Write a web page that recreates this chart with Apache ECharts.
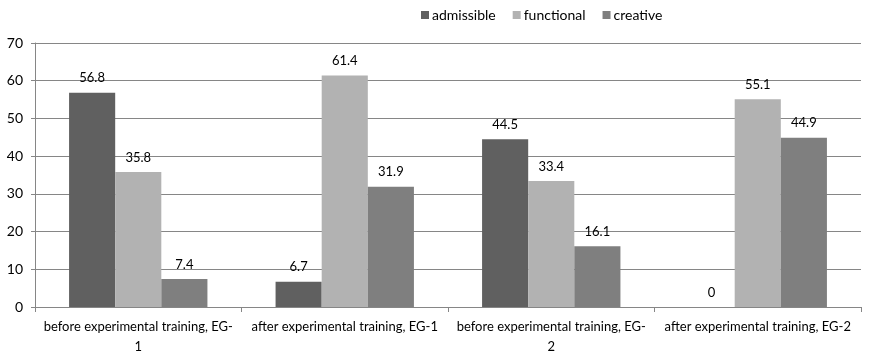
<!DOCTYPE html>
<html><head><meta charset="utf-8">
<script src="https://cdn.jsdelivr.net/npm/echarts@6/dist/echarts.min.js"></script>
<style>html,body{margin:0;padding:0;background:#fff}#c{width:869px;height:363px}</style>
</head><body><div id="c"></div>
<script>
var categories = ['before experimental training, EG-\n1', 'after experimental training, EG-1', 'before experimental training, EG-\n2', 'after experimental training, EG-2'];
var admissible = [56.8, 6.7, 44.5, 0];
var functional = [35.8, 61.4, 33.4, 55.1];
var creative = [7.4, 31.9, 16.1, 44.9];
var yTicks = [0, 10, 20, 30, 40, 50, 60, 70];
var FONT = 'Lato';
var chart = echarts.init(document.getElementById('c'));
function s(name, data, color) {
  return {
    name: name, type: 'bar', data: data, barGap: '0%', barCategoryGap: '33%',
    itemStyle: {color: color},
    label: {show: true, position: 'top', color: '#000', fontFamily: FONT, fontSize: 13, distance: 8},
    animation: false
  };
}
chart.setOption({
  animation: false,
  legend: {
    top: 3, left: 416, itemWidth: 8, itemHeight: 8, itemGap: 17, icon: 'rect',
    textStyle: {fontFamily: FONT, fontSize: 14, color: '#000', padding: [0,0,0,-2]},
    data: ['admissible', 'functional', 'creative']
  },
  grid: {left: 35, right: 8, top: 43, bottom: 56},
  xAxis: {
    type: 'category', data: categories,
    axisLine: {lineStyle: {color: '#868686'}},
    axisTick: {show: true, length: 5, lineStyle: {color: '#868686'}},
    axisLabel: {fontFamily: FONT, fontSize: 13, color: '#000', interval: 0, margin: 10, lineHeight: 20}
  },
  yAxis: {
    type: 'value', min: yTicks[0], max: yTicks[yTicks.length - 1], interval: 10,
    axisLine: {show: true, lineStyle: {color: '#868686'}},
    axisTick: {show: true, length: 4, lineStyle: {color: '#868686'}},
    splitLine: {lineStyle: {color: '#868686'}},
    axisLabel: {fontFamily: FONT, fontSize: 14, color: '#000', margin: 12}
  },
  series: [s('admissible', admissible, '#606060'), s('functional', functional, '#b2b2b2'), s('creative', creative, '#7f7f7f')]
});
</script></body></html>
